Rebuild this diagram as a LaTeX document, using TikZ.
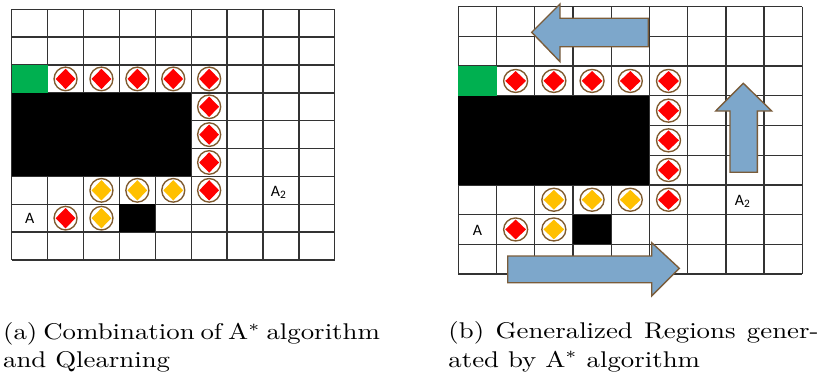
\documentclass[tikz,border=0pt]{standalone}
\usepackage{fontspec}
\newfontfamily\calib{Carlito}
\definecolor{cellgreen}{HTML}{00B050}
\definecolor{tokred}{HTML}{FF0000}
\definecolor{tokyel}{HTML}{FFC000}
\definecolor{tokring}{HTML}{7F5A2E}
\definecolor{arrowfill}{HTML}{7DA7CB}
\definecolor{arrowline}{HTML}{7A5C3A}
\definecolor{gridline}{HTML}{333333}
\tikzset{
  gridl/.style={draw=gridline, line width=0.6pt},
  ring/.style={draw=tokring, fill=white, line width=0.6pt},
  bigarrow/.style={fill=arrowfill, draw=arrowline, line width=0.6pt, line join=miter},
  celltext/.style={font=\calib\fontsize{7}{8}\selectfont, inner sep=0pt},
  captxt/.style={font=\fontsize{10}{12}\selectfont, anchor=base west, inner sep=0pt}
}
\newcommand{\tokenmark}[5]{% cx, cy, rx, ry, color
  \path[ring] (#1,#2) ellipse [x radius=#3, y radius=#4];
  \fill[#5] (#1-#3+1.6,#2) -- (#1,#2-#4+1.6) -- (#1+#3-1.6,#2) -- (#1,#2+#4-1.6) -- cycle;
}
\newcommand{\capline}[1]{\scalebox{1.18}[1]{#1}}
\begin{document}
\begin{tikzpicture}[x=0.44pt,y=-0.44pt]
\useasboundingbox (0,0) rectangle (820,377);
% ---------- left grid ----------
\def\lx{11.7}\def\ldx{35.9}\def\ly{9.3}\def\ldy{27.85}
\foreach \i in {0,...,9} {
  \draw[gridl] (\lx+\i*\ldx,\ly) -- (\lx+\i*\ldx,\ly+9*\ldy);
  \draw[gridl] (\lx,\ly+\i*\ldy) -- (\lx+9*\ldx,\ly+\i*\ldy);
}
\fill[cellgreen] (\lx,\ly+2*\ldy) rectangle (\lx+\ldx,\ly+3*\ldy);
\fill[black] (\lx,\ly+3*\ldy) rectangle (\lx+5*\ldx,\ly+6*\ldy);
\fill[black] (\lx+3*\ldx,\ly+7*\ldy) rectangle (\lx+4*\ldx,\ly+8*\ldy);
\foreach \c/\r/\col in {1/2/tokred,2/2/tokred,3/2/tokred,4/2/tokred,5/2/tokred,5/3/tokred,5/4/tokred,5/5/tokred,5/6/tokred,2/6/tokyel,3/6/tokyel,4/6/tokyel,1/7/tokred,2/7/tokyel} {
  \pgfmathsetmacro\cx{\lx+\ldx*(\c+0.5)}
  \pgfmathsetmacro\cy{\ly+\ldy*(\r+0.5)}
  \tokenmark{\cx}{\cy}{11.5}{11.8}{\col}
}
\node[celltext] (la) at (\lx+0.5*\ldx,\ly+7.5*\ldy) {A};
\node[celltext] (la2) at (\lx+7.5*\ldx-2,\ly+6.5*\ldy+2) {A\textsubscript{2}};
% ---------- right grid ----------
\def\rx{458.3}\def\rdx{38.22}\def\ry{6.7}\def\rdy{29.7}
\foreach \i in {0,...,9} {
  \draw[gridl] (\rx+\i*\rdx,\ry) -- (\rx+\i*\rdx,\ry+9*\rdy);
  \draw[gridl] (\rx,\ry+\i*\rdy) -- (\rx+9*\rdx,\ry+\i*\rdy);
}
\fill[cellgreen] (\rx,\ry+2*\rdy) rectangle (\rx+\rdx,\ry+3*\rdy);
\fill[black] (\rx,\ry+3*\rdy) rectangle (\rx+5*\rdx,\ry+6*\rdy);
\fill[black] (\rx+3*\rdx,\ry+7*\rdy) rectangle (\rx+4*\rdx,\ry+8*\rdy);
\foreach \c/\r/\col in {1/2/tokred,2/2/tokred,3/2/tokred,4/2/tokred,5/2/tokred,5/3/tokred,5/4/tokred,5/5/tokred,5/6/tokred,2/6/tokyel,3/6/tokyel,4/6/tokyel,1/7/tokred,2/7/tokyel} {
  \pgfmathsetmacro\cx{\rx+\rdx*(\c+0.5)}
  \pgfmathsetmacro\cy{\ry+\rdy*(\r+0.5)}
  \tokenmark{\cx}{\cy}{12}{11.5}{\col}
}
\node[celltext] (ra) at (\rx+0.5*\rdx,\ry+7.5*\rdy+1) {A};
\node[celltext] (ra2) at (\rx+7.5*\rdx-2,\ry+6.5*\rdy+2) {A\textsubscript{2}};
% arrows
\path[bigarrow] (648.3,18.3) -- (560,18.3) -- (560,4) -- (531.7,32.3) -- (560,61.7) -- (560,46.7) -- (648.3,46.7) -- cycle;
\path[bigarrow] (730,172.3) -- (730,111) -- (715.7,111) -- (743.3,83.3) -- (771.7,111) -- (757.3,111) -- (757.3,172.3) -- cycle;
\path[bigarrow] (507.7,256) -- (651.7,256) -- (651.7,242.7) -- (679.3,268.3) -- (651.7,296) -- (651.7,282.7) -- (507.7,282.7) -- cycle;
% ---------- captions ----------
\node[captxt] (capa1) at (2.7,339.3) {\capline{\hbox to 138pt{(a) Combination of A$^*$ algorithm}}};
\node[captxt] (capa2) at (2.7,367.7) {\capline{and Qlearning}};
\node[captxt] (capb1) at (448,338.8) {\capline{\hbox to 138pt{(b) Generalized Regions gener-}}};
\node[captxt] (capb2) at (448,367.2) {\capline{ated by A$^*$ algorithm}};
\end{tikzpicture}
\end{document}
